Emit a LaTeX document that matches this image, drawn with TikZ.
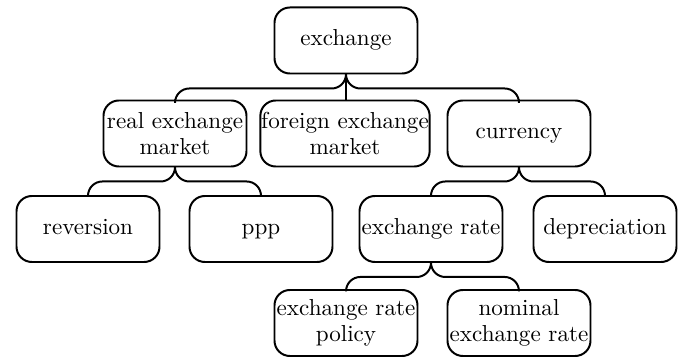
\documentclass[tikz,border=0pt]{standalone}
\begin{document}
\begin{tikzpicture}[x=0.4545pt,y=-0.4545pt,
  box/.style={draw,line width=0.9pt,rounded corners=7pt,align=center,
    minimum width=65pt,minimum height=30pt,inner sep=0.4pt,
    font=\fontsize{10.5}{11.6}\selectfont},
  single/.style={text height=1.6ex,text depth=0.45ex},
  conn/.style={draw,line width=0.9pt,rounded corners=6.5pt}]
\useasboundingbox (0,0) rectangle (688,358);
% top level
\node[box,single] (ex) at (346,40.5) {exchange};
% second level
\node[box] (rem) at (175,133.5) {real exchange\\market};
\node[box] (fem) at (345,133.5) {foreign exchange\\market};
\node[box,single] (cur) at (519,133.5) {currency};
% third level
\node[box,single] (rev) at (88,229) {reversion};
\node[box,single] (ppp) at (261,229) {ppp};
\node[box,single] (er)  at (431,229) {exchange rate};
\node[box,single] (dep) at (605,229) {depreciation};
% fourth level
\node[box] (erp) at (346,323) {exchange rate\\policy};
\node[box] (ner) at (519,323) {nominal\\exchange rate};
% brace-like connectors
\draw[conn] (ex.south) -- ++(0,14) -| (rem.north);
\draw[conn] (ex.south) -- (ex.south |- fem.north);
\draw[conn] (ex.south) -- ++(0,14) -| (cur.north);
\draw[conn] (rem.south) -- ++(0,14) -| (rev.north);
\draw[conn] (rem.south) -- ++(0,14) -| (ppp.north);
\draw[conn] (cur.south) -- ++(0,14) -| (er.north);
\draw[conn] (cur.south) -- ++(0,14) -| (dep.north);
\draw[conn] (er.south) -- ++(0,14) -| (erp.north);
\draw[conn] (er.south) -- ++(0,14) -| (ner.north);
\end{tikzpicture}
\end{document}
